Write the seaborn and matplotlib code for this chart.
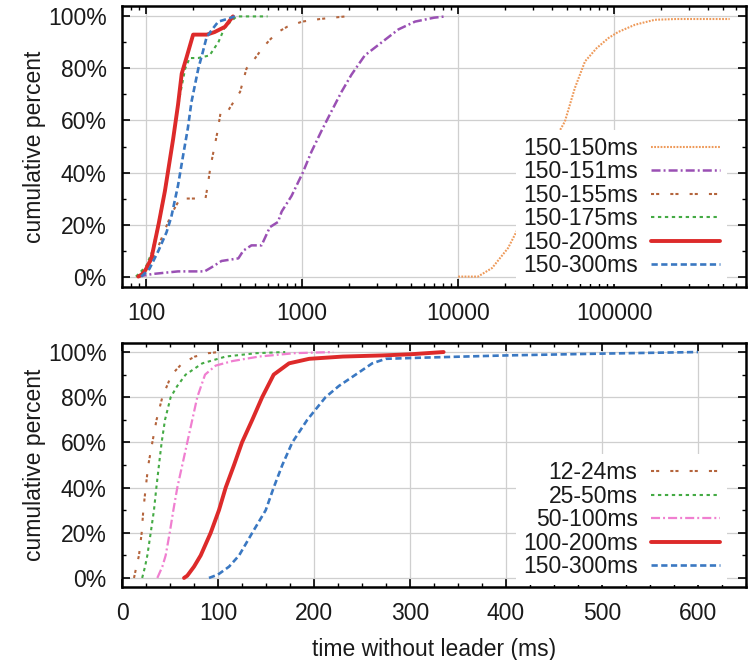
import numpy as np
import pandas as pd
import matplotlib
matplotlib.use("Agg")
import matplotlib.pyplot as plt
import seaborn as sns
from matplotlib.ticker import FixedLocator, MultipleLocator, LogLocator, NullFormatter, FuncFormatter

# ---------------- data: top panel (log x) ----------------
top_labels = ["150-150ms", "150-151ms", "150-155ms", "150-175ms", "150-200ms", "150-300ms"]

t150_150_ms = [10000, 13400, 16500, 20900, 24300, 28200, 34200, 41000, 48300, 56000, 65000,
               77200, 92000, 106000, 136000, 182000, 250000, 550000]
t150_150_pct = [0, 0, 3.3, 11, 18.7, 28.8, 44, 52, 59.6, 72.5, 82.7, 87.8, 91.7, 94, 96.8, 98.7, 99, 99]

t150_151_ms = [88, 110, 160, 237, 270, 304, 390, 420, 473, 549, 621, 700, 739, 855, 1010, 1147,
               1330, 1540, 1787, 2070, 2520, 3230, 4140, 5290, 7000, 8300]
t150_151_pct = [0, 1, 2, 2, 4, 6, 7, 10, 12, 12, 19, 21, 25, 31, 40, 48, 56, 63.5, 71, 77.6, 85,
                90, 95, 98, 99.5, 100]

t150_155_ms = [88, 100, 115, 130, 145, 158, 165, 200, 240, 248, 258, 270, 285, 300, 330, 345, 400,
               440, 500, 560, 620, 700, 800, 1000, 1300, 1900]
t150_155_pct = [0, 3, 9, 17, 24, 28, 30, 30, 30, 35, 42, 48, 55, 63, 63, 65, 71, 80, 84, 88, 91,
                94, 96, 98, 99, 100]

t150_175_ms = [86, 100, 110, 122, 135, 150, 165, 178, 190, 215, 255, 275, 290, 320, 380, 600]
t150_175_pct = [0, 4, 10, 23, 37, 54, 70, 80, 84, 84, 85, 88, 90, 96, 100, 100]

t150_200_ms = [89, 95, 100, 108, 120, 132, 149, 160, 169, 181, 200, 245, 275, 320, 360]
t150_200_pct = [0, 1, 3, 7, 20, 33, 53, 66, 78, 84, 93, 93, 94, 96, 100]

t150_300_ms = [93, 105, 120, 135, 145, 160, 173, 185, 195, 206, 216, 230, 244, 265, 290, 330, 370]
t150_300_pct = [0, 3, 10, 17, 23, 35, 47, 57, 67, 74, 80, 86, 92, 95, 98, 99, 100]

top_xticks = [100, 1000, 10000, 100000]

# ---------------- data: bottom panel (linear x) ----------------
bottom_labels = ["12-24ms", "25-50ms", "50-100ms", "100-200ms", "150-300ms"]

b12_24_ms = [12.5, 15, 17.7, 20.5, 22.2, 24.7, 27.4, 31.6, 36, 42, 51.7, 62.8, 76, 90, 101]
b12_24_pct = [0, 5, 10, 20, 30, 40, 50, 60, 70, 80, 90, 95, 98, 99.5, 100]

b25_50_ms = [21, 24, 26.4, 29.9, 33.3, 35.8, 38.5, 41.3, 44.8, 50.7, 57.6, 66.3, 83.7, 108, 140, 170]
b25_50_pct = [0, 5, 10, 20, 30, 40, 50, 60, 70, 80, 85, 90, 95, 98, 99.5, 100]

b50_100_ms = [36.8, 42, 45.5, 49.7, 53.5, 57.6, 62.8, 68, 73.2, 78.4, 86.5, 97.6, 115, 142.7, 180, 220]
b50_100_pct = [0, 5, 10, 20, 30, 40, 50, 60, 70, 80, 90, 94, 96, 98, 99.5, 100]

b100_200_ms = [64.6, 68, 75, 82, 92.4, 101, 108, 116.7, 125, 135.7, 146, 152, 158, 174, 195, 230,
               271, 300, 335]
b100_200_pct = [0, 1, 5, 10, 20, 30, 40, 50, 60, 70, 80, 85, 90, 95, 97, 98, 98.5, 99, 100]

b150_300_ms = [90.6, 100, 111.5, 122, 135.7, 149.7, 158, 167, 177.4, 193, 212, 226, 243.4, 260.7,
               274.7, 312, 400, 500, 600]
b150_300_pct = [0, 1.5, 5, 10, 20, 30, 40, 50, 60, 70, 80, 85, 90, 95, 97, 97.5, 98.5, 99.3, 100]

bottom_xticks = [0, 100, 200, 300, 400, 500, 600]
y_ticks = [0, 20, 40, 60, 80, 100]

# ---------------- styles ----------------
top_styles = {
    "150-150ms": dict(color="#ee9a5a", lw=1.5, ls=(0, (1.3, 1.0))),
    "150-151ms": dict(color="#9a50b4", lw=1.8, ls=(0, (6.5, 2.2, 1.4, 2.2))),
    "150-155ms": dict(color="#b4643c", lw=1.5, ls=(0, (2.2, 1.5, 2.2, 8.0))),
    "150-175ms": dict(color="#44aa44", lw=1.5, ls=(0, (2.4, 2.6))),
    "150-200ms": dict(color="#dd2a2a", lw=2.8, ls="-"),
    "150-300ms": dict(color="#3a78c2", lw=1.9, ls=(0, (4.5, 2.5))),
}
bottom_styles = {
    "12-24ms": dict(color="#b4643c", lw=1.5, ls=(0, (2.2, 1.5, 2.2, 8.0))),
    "25-50ms": dict(color="#44aa44", lw=1.5, ls=(0, (2.4, 2.6))),
    "50-100ms": dict(color="#f07fd0", lw=1.6, ls=(0, (6.5, 2.2, 1.4, 2.2))),
    "100-200ms": dict(color="#dd2a2a", lw=2.8, ls="-"),
    "150-300ms": dict(color="#3a78c2", lw=1.9, ls=(0, (4.5, 2.5))),
}

sns.set_theme(style="white")
plt.rcParams["font.family"] = ["Liberation Sans", "DejaVu Sans"]
plt.rcParams["lines.scale_dashes"] = False

FS = 16.5
TXT = "#1a1a1a"

fig = plt.figure(figsize=(7.48, 6.6), dpi=100, facecolor="white")
W, H = 748.0, 660.0
ax1 = fig.add_axes([122 / W, 1 - 287 / H, 624 / W, 281 / H])
ax2 = fig.add_axes([122 / W, 1 - 587 / H, 624 / W, 244 / H])


def draw(ax, series, styles):
    handles = []
    for label, xs, ps in series:
        st = styles[label]
        df = pd.DataFrame({"time": xs, "pct": ps})
        sns.lineplot(data=df, x="time", y="pct", ax=ax, sort=False, estimator=None,
                     color=st["color"], linewidth=st["lw"], linestyle=st["ls"],
                     label=label, legend=False)
        handles.append(ax.get_lines()[-1])
    return handles


top_series = [
    ("150-150ms", t150_150_ms, t150_150_pct),
    ("150-151ms", t150_151_ms, t150_151_pct),
    ("150-155ms", t150_155_ms, t150_155_pct),
    ("150-175ms", t150_175_ms, t150_175_pct),
    ("150-200ms", t150_200_ms, t150_200_pct),
    ("150-300ms", t150_300_ms, t150_300_pct),
]
bottom_series = [
    ("12-24ms", b12_24_ms, b12_24_pct),
    ("25-50ms", b25_50_ms, b25_50_pct),
    ("50-100ms", b50_100_ms, b50_100_pct),
    ("100-200ms", b100_200_ms, b100_200_pct),
    ("150-300ms", b150_300_ms, b150_300_pct),
]

ax1.set_xscale("log")
h1 = draw(ax1, top_series, top_styles)
h2 = draw(ax2, bottom_series, bottom_styles)

# axes formatting
ax1.set_xlim(70, 700000)
ax1.xaxis.set_major_locator(FixedLocator(top_xticks))
ax1.xaxis.set_major_formatter(FuncFormatter(lambda v, p: f"{v:.0f}"))
ax1.xaxis.set_minor_locator(LogLocator(base=10, subs=np.arange(2, 10)))
ax1.xaxis.set_minor_formatter(NullFormatter())

ax2.set_xlim(0, 650)
ax2.xaxis.set_major_locator(FixedLocator(bottom_xticks))
ax2.xaxis.set_minor_locator(MultipleLocator(25))

for ax in (ax1, ax2):
    ax.set_ylim(-4, 104)
    ax.yaxis.set_major_locator(FixedLocator(y_ticks))
    ax.yaxis.set_major_formatter(FuncFormatter(lambda v, p: f"{v:.0f}%"))
    ax.yaxis.set_minor_locator(MultipleLocator(10))
    ax.set_axisbelow(True)
    ax.grid(True, which="major", color="#cfcfcf", linewidth=0.9, linestyle="-")
    ax.tick_params(which="both", direction="in", top=True, right=True, bottom=True, left=True,
                   colors=TXT, labelsize=FS)
    ax.tick_params(which="major", length=6, width=1.2, color="black")
    ax.tick_params(which="minor", length=3.2, width=1.0, color="black")
    ax.tick_params(axis="y", which="major", pad=11)
    ax.tick_params(axis="x", which="major", pad=11)
    for s in ax.spines.values():
        s.set_visible(True)
        s.set_color("black")
        s.set_linewidth(1.8)
    ax.set_ylabel("cumulative percent", fontsize=FS, color=TXT)
    ax.yaxis.set_label_coords(-0.122, 0.5)
    ax.set_xlabel("")

ax2.set_xlabel("time without leader (ms)", fontsize=FS, color=TXT)
ax2.xaxis.set_label_coords(0.5, -0.21)

leg_kw = dict(loc="lower right", bbox_transform=fig.transFigure, markerfirst=False,
              frameon=True, facecolor="white", edgecolor="none", framealpha=1.0,
              fancybox=False, fontsize=FS, handlelength=3.0, handletextpad=0.6,
              labelspacing=0.02, borderpad=0.3, borderaxespad=0)
l1 = ax1.legend(h1, top_labels, bbox_to_anchor=(727 / W, 1 - 284 / H), **leg_kw)
l2 = ax2.legend(h2, bottom_labels, bbox_to_anchor=(727 / W, 1 - 585 / H), **leg_kw)
for lg in (l1, l2):
    for t in lg.get_texts():
        t.set_color(TXT)

fig.savefig("out.png", dpi=100, facecolor="white")
